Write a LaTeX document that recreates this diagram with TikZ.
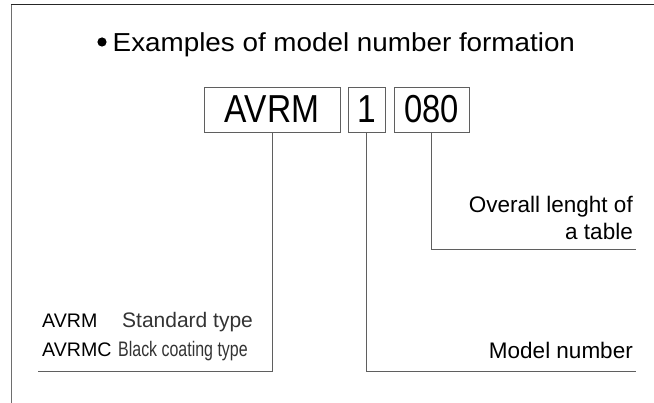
\documentclass[tikz,border=0pt]{standalone}
\usepackage{fontspec}
\setmainfont{Liberation Sans}
\usepackage{graphicx}
\definecolor{linegray}{RGB}{95,95,95}
\definecolor{framegray}{RGB}{110,110,110}
\begin{document}
\begin{tikzpicture}[x=1pt,y=-1pt,
  codebox/.style={draw=linegray,line width=0.9pt,inner sep=0pt,minimum height=45pt,
    font=\fontsize{39}{39}\selectfont},
  lead/.style={draw=linegray,line width=0.9pt},
  lbl/.style={inner sep=0pt,font=\fontsize{22.5}{22.5}\selectfont},
  sidelbl/.style={inner sep=0pt,anchor=base west,font=\fontsize{21}{21}\selectfont},
  codelbl/.style={inner sep=0pt,anchor=base west,font=\fontsize{19.6}{19.6}\selectfont},
  ttl/.style={inner sep=0pt,font=\fontsize{26}{26}\selectfont}]
\useasboundingbox (0,0) rectangle (654,403);
% frame
\draw[framegray,line width=1.4pt] (11.5,403) -- (11.5,4.3);
\draw[black!85,line width=1.2pt] (10.8,4.3) -- (654,4.3);
% title
\fill (102,42) circle (4.6pt);
\node[ttl,anchor=base west] (title) at (112.5,52) {\scalebox{1.07}[1]{Examples of model number formation}};
% code boxes
\node[codebox,minimum width=136pt] (bA) at (272,109.5) {\scalebox{0.86}[1]{AVRM}};
\node[codebox,minimum width=37pt] (b1) at (366.5,109.5) {\scalebox{0.86}[1]{1}};
\node[codebox,minimum width=75pt] (b2) at (431.5,109.5) {\scalebox{0.84}[1]{080}};
% leader end points
\coordinate (eA) at (38,371);
\coordinate (e1) at (636,371);
\coordinate (e2) at (636,249);
\draw[lead] (bA.south) |- (eA);
\draw[lead] (b1.south) |- (e1);
\draw[lead] (b2.south) |- (e2);
% labels
\node[lbl,anchor=base east] (ol1) at (633,213) {Overall lenght of};
\node[lbl,anchor=base east] (ol2) at (633,240) {a table};
\node[lbl,anchor=base east] (mn) at (633,359) {Model number};
\node[codelbl] (t1) at (42,328) {AVRM};
\node[sidelbl,text=black!80] (d1) at (122,328) {Standard type};
\node[codelbl] (t2) at (42,357) {AVRMC};
\node[sidelbl,text=black!80] (d2) at (118,357) {\scalebox{0.76}[1]{Black coating type}};
\end{tikzpicture}
\end{document}
